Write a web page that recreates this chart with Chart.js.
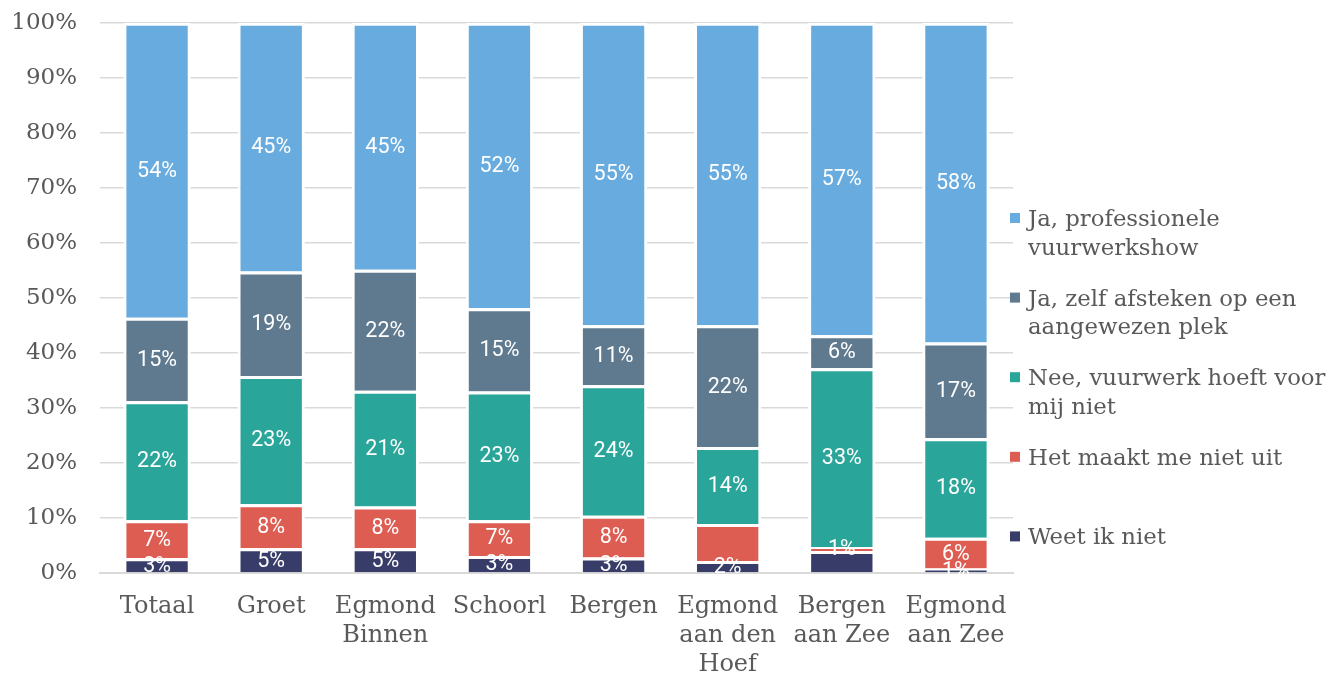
<!DOCTYPE html>
<html>
<head>
<meta charset="utf-8">
<script src="https://cdn.jsdelivr.net/npm/chart.js@4"></script>
<style>
  html, body { margin: 0; padding: 0; background: #fff; }
  #wrap { width: 1331px; height: 675px; position: relative; }
</style>
</head>
<body>
<div id="wrap"><canvas id="c" width="1331" height="675"></canvas></div>
<script>
// Categories (x axis)
const categories = [
  'Totaal', 'Groet', ['Egmond', 'Binnen'], 'Schoorl', 'Bergen',
  ['Egmond', 'aan den', 'Hoef'], ['Bergen', 'aan Zee'], ['Egmond', 'aan Zee']
];

// Series values (percent), bottom to top
const weetIkNiet   = [2.7, 4.5, 4.5, 3.1, 2.8, 2.2, 4.0, 0.8];
const maaktNietUit = [6.9, 8.0, 7.6, 6.5, 7.6, 6.7, 0.7, 5.6];
const neeHoeftNiet = [21.6, 23.3, 21.0, 23.4, 23.7, 14.0, 32.5, 18.1];
const jaZelf       = [15.2, 19.0, 22.0, 15.1, 10.9, 22.1, 6.0, 17.4];
const jaProf       = [53.6, 45.2, 44.9, 51.9, 55.0, 55.0, 56.8, 58.1];

// Series names (legend lines)
const nameWeet = ['Weet ik niet'];
const nameMaakt = ['Het maakt me niet uit'];
const nameNee = ['Nee, vuurwerk hoeft voor', 'mij niet'];
const nameZelf = ['Ja, zelf afsteken op een', 'aangewezen plek'];
const nameProf = ['Ja, professionele', 'vuurwerkshow'];

// Data labels not shown in the reference (category indices per series)
const hiddenWeet = [6];
const hiddenMaakt = [5];

// Y axis tick values
const yTicks = [0, 10, 20, 30, 40, 50, 60, 70, 80, 90, 100];

const colors = {
  prof: '#68abdf',
  zelf: '#5f7a8f',
  nee: '#2aa59a',
  maakt: '#de5d52',
  weet: '#383c68'
};

const serif = '"DejaVu Serif", serif';
const textGray = '#595959';

function ds(lines, data, color, hidden) {
  return {
    label: lines.join(' '),
    legendLines: lines,
    hiddenLabels: hidden,
    data: data,
    backgroundColor: color,
    borderColor: '#ffffff',
    borderWidth: { left: 3, right: 3, top: 3, bottom: 0 },
    borderSkipped: false,
    barPercentage: 0.59,
    categoryPercentage: 1.0
  };
}

const datasets = [
  ds(nameWeet, weetIkNiet, colors.weet, hiddenWeet),
  ds(nameMaakt, maaktNietUit, colors.maakt, hiddenMaakt),
  ds(nameNee, neeHoeftNiet, colors.nee, []),
  ds(nameZelf, jaZelf, colors.zelf, []),
  ds(nameProf, jaProf, colors.prof, [])
];

const valueLabels = {
  id: 'valueLabels',
  afterDatasetsDraw(chart) {
    const ctx = chart.ctx;
    ctx.save();
    ctx.font = '21.5px Roboto, sans-serif';
    ctx.fillStyle = '#ffffff';
    ctx.textAlign = 'center';
    ctx.textBaseline = 'middle';
    chart.data.datasets.forEach((d, i) => {
      const meta = chart.getDatasetMeta(i);
      meta.data.forEach((bar, j) => {
        if (d.hiddenLabels.includes(j)) return;
        const v = d.data[j];
        const cy = (bar.y + bar.base) / 2;
        ctx.fillText(Math.round(v) + '%', bar.x, cy + 1);
      });
    });
    ctx.restore();
  }
};

const sideLegend = {
  id: 'sideLegend',
  afterDraw(chart) {
    const ctx = chart.ctx;
    ctx.save();
    ctx.font = '22.8px ' + serif;
    ctx.textAlign = 'left';
    ctx.textBaseline = 'alphabetic';
    const items = chart.data.datasets.slice().reverse();
    const x0 = 1010, textX = 1028, firstBase = 226, step = 79.6, lineH = 28.5;
    items.forEach((d, k) => {
      const base = firstBase + k * step;
      ctx.fillStyle = d.backgroundColor;
      ctx.fillRect(x0, base - 13, 10, 10);
      ctx.fillStyle = textGray;
      d.legendLines.forEach((ln, m) => ctx.fillText(ln, textX, base + m * lineH));
    });
    ctx.restore();
  }
};

new Chart(document.getElementById('c'), {
  type: 'bar',
  data: { labels: categories, datasets: datasets },
  options: {
    responsive: false,
    animation: false,
    devicePixelRatio: 1,
    layout: { padding: { top: 22.7, right: 318, left: 0, bottom: 0 } },
    plugins: {
      legend: { display: false },
      tooltip: { enabled: false }
    },
    scales: {
      x: {
        stacked: true,
        grid: { display: false, drawTicks: false },
        border: { display: true, color: '#d9d9d9', width: 2 },
        ticks: {
          color: textGray,
          font: { family: serif, size: 24, lineHeight: 1.21 },
          padding: 19,
          maxRotation: 0,
          autoSkip: false
        },
        afterFit(scale) { scale.height = 102; scale.paddingLeft = 0; scale.paddingRight = 0; }
      },
      y: {
        stacked: true,
        min: 0,
        max: 100,
        afterBuildTicks(scale) { scale.ticks = yTicks.map(v => ({ value: v })); },
        grid: { color: '#d9d9d9', lineWidth: 1.4, drawTicks: false },
        border: { display: false },
        ticks: {
          color: textGray,
          font: { family: serif, size: 23 },
          padding: 23,
          callback: v => v + '%'
        },
        afterFit(scale) { scale.width = 100; scale.paddingTop = 0; scale.paddingBottom = 0; }
      }
    }
  },
  plugins: [valueLabels, sideLegend]
});
</script>
</body>
</html>
